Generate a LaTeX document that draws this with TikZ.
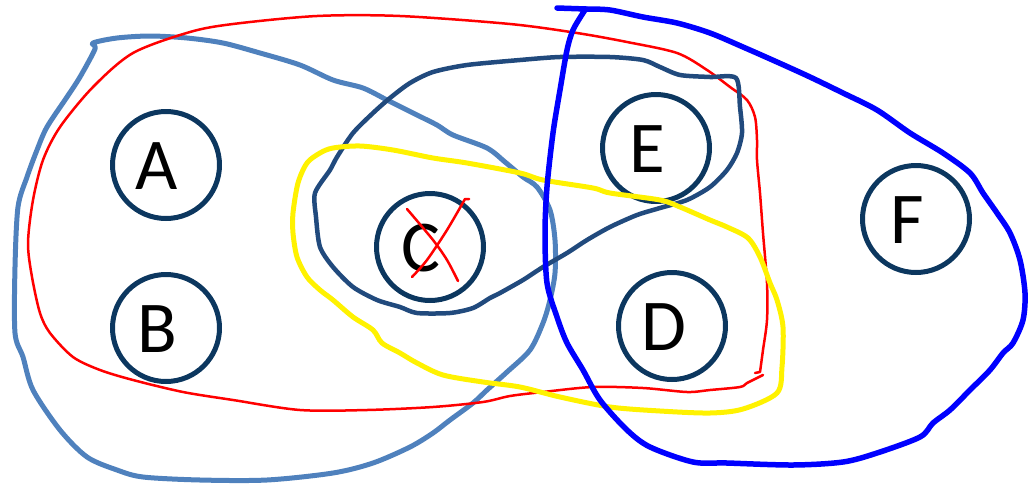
\documentclass[tikz,border=0pt]{standalone}
\usepackage{fontspec}
\setmainfont{Carlito}
\definecolor{ringnavy}{RGB}{12,55,95}
\definecolor{steel}{RGB}{79,129,189}
\definecolor{loopnavy}{RGB}{33,74,125}
\begin{document}
\begin{tikzpicture}[x=1pt,y=-1pt,line cap=round,line join=round,
  bubble/.style={draw=ringnavy,line width=5pt,circle,minimum size=107pt,inner sep=0pt},
  letter/.style={inner sep=0pt,font=\fontsize{73}{73}\selectfont}]
  \useasboundingbox (0,0) rectangle (1031,485);
  % the six sets
  \node[bubble] (A) at (166,165) {};
  \node[bubble] (B) at (166,328) {};
  \node[bubble] (C) at (430,247) {};
  \node[bubble] (E) at (656,148) {};
  \node[bubble] (D) at (672,326) {};
  \node[bubble] (F) at (916,219) {};
  \node[letter] (Aname) at (157,166) {A};
  \node[letter] (Bname) at (157,329) {B};
  \node[letter] (Cname) at (421,248) {C};
  \node[letter] (Ename) at (647,149) {E};
  \node[letter] (Dname) at (664,327) {D};
  \node[letter] (Fname) at (907,220) {F};
  % steel blue loop round A, B, C
  \draw[steel,line width=5pt] plot[smooth cycle] coordinates {
    (93,43) (117,38) (150,36) (187,38) (223,43) (260,53) (300,65) (333,80)
    (363,88) (387,100) (417,115) (437,125) (453,135) (487,148) (505,162)
    (523,177) (537,187) (550,210) (555,240) (555,273) (550,300) (543,323)
    (530,350) (507,372) (487,390) (473,403) (450,420) (433,433) (410,447)
    (373,463) (333,473) (267,480) (200,480) (143,477) (117,470) (87,457)
    (60,430) (33,390) (23,357) (15,333) (15,267) (18,207) (27,177) (37,150)
    (47,127) (67,97) (80,77) (95,49)};
  % red loop round A, B, C, E, D
  \draw[red,line width=2.5pt] plot[smooth] coordinates {
    (763,375) (747,383) (740,387) (710,390) (687,392) (643,388) (593,387)
    (543,392) (510,396) (483,402) (433,407) (367,410) (300,410) (233,400)
    (183,392) (133,380) (100,370) (73,357) (50,333) (40,313) (32,277)
    (28,243) (33,200) (43,160) (60,127) (93,87) (133,53) (190,32) (233,24)
    (317,16) (400,16) (510,24) (577,33) (627,42) (677,53) (707,70) (730,87)
    (747,100) (755,117) (757,140) (757,160) (760,193) (763,233) (767,283)
    (767,320) (763,350) (760,372)} -- (755,373);
  % dark loop round C and E
  \draw[loopnavy,line width=4.5pt] plot[smooth cycle,tension=0.45] coordinates {
    (560,57) (610,57) (643,60) (660,67) (680,75) (710,77) (736,78) (740,107)
    (742,133) (737,153) (727,170) (710,187) (687,200) (660,208) (637,215)
    (610,227) (587,240) (567,253) (543,267) (523,280) (500,293) (490,298)
    (473,308) (450,313) (417,313) (400,307) (377,300) (353,287) (333,267)
    (320,247) (316,217) (315,193) (330,170) (337,157) (353,133) (373,113)
    (390,98) (410,83) (433,72) (467,65) (520,60)};
  % yellow loop round C and D
  \draw[yellow,line width=5pt] plot[smooth cycle] coordinates {
    (520,173) (467,163) (433,158) (393,150) (360,146) (333,148) (320,153)
    (307,163) (298,183) (293,213) (293,233) (297,257) (307,277) (320,290)
    (333,300) (353,317) (373,330) (382,343) (400,353) (417,363) (443,375)
    (483,382) (520,387) (560,397) (610,407) (660,411) (710,413) (743,409)
    (777,393) (782,367) (783,327) (777,300) (770,283) (760,257) (748,238)
    (727,227) (710,220) (680,207) (660,200) (610,193) (593,188) (543,180)};
  % blue loop round E, D, F
  \draw[blue,line width=5.5pt] (557,8) -- (586,9) plot[smooth] coordinates {
    (586,9) (610,10) (643,17) (677,23) (710,33) (743,47) (777,62) (810,77)
    (843,93) (877,110) (910,133) (943,153) (970,173) (983,193) (997,213)
    (1010,233) (1020,260) (1025,293) (1023,320) (1013,343) (1003,353)
    (990,370) (970,390) (950,410) (933,423) (920,437) (877,453) (843,462)
    (793,465) (727,463) (693,462) (650,447) (627,430) (600,400) (583,370)
    (567,343) (557,317) (547,283) (545,233) (547,187) (553,133) (560,90)
    (567,50) (573,30) (583,13) (586,9)};
  % C struck out
  \draw[red,line width=2.5pt] plot[smooth] coordinates {(407,209) (433,240) (447,260) (458,281)};
  \draw[red,line width=2.5pt] plot[smooth] coordinates {(412,277) (427,260) (447,230) (465,199)} -- (469,199);
\end{tikzpicture}
\end{document}
